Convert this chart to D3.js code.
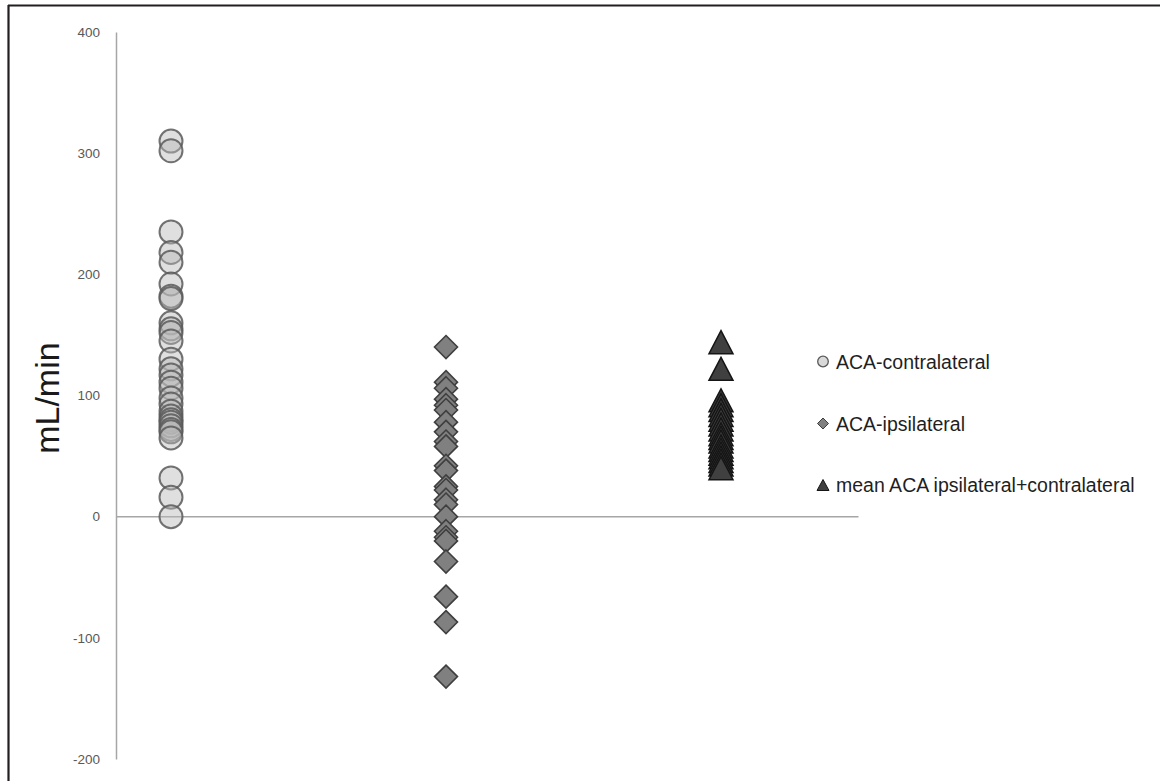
<!DOCTYPE html>
<html>
<head>
<meta charset="utf-8">
<script src="https://cdn.jsdelivr.net/npm/d3@7"></script>
<style>
  html, body { margin: 0; padding: 0; background: #fff; }
  svg { display: block; }
</style>
</head>
<body>
<svg id="chart" width="1160" height="781"></svg>
<script>
// ---- data ----
const seriesNames = ["ACA-contralateral", "ACA-ipsilateral", "mean ACA ipsilateral+contralateral"];
const seriesX = [1, 2, 3];
const contralateral = [310, 302, 235, 218, 210, 192, 182, 180, 160, 155, 152, 145, 130, 122, 117, 111, 106, 98, 93, 87, 83, 80, 78, 75, 72, 70, 65, 32, 16, 0];
const ipsilateral = [140, 111, 106, 97, 92, 88, 78, 70, 62, 58, 42, 38, 25, 22, 14, 10, 0, -12, -17, -20, -37, -66, -87, -132];
const meanValues = [144, 122, 96, 92, 88, 84, 80, 76, 72, 68, 65, 62, 58, 55, 52, 49, 46, 43, 40];
const yTicks = [-200, -100, 0, 100, 200, 300, 400];
const yLabel = "mL/min";

// ---- layout ----
const svg = d3.select("#chart");
const x = d3.scaleLinear().domain([0.8, 3.5]).range([116, 858.5]);
const y = d3.scaleLinear().domain([-200, 400]).range([759, 32]);

// frame (top and left edges)
svg.append("line").attr("x1", 8).attr("x2", 1160).attr("y1", 5.5).attr("y2", 5.5)
  .attr("stroke", "#231f20").attr("stroke-width", 2.2);
svg.append("line").attr("x1", 8.5).attr("x2", 8.5).attr("y1", 5).attr("y2", 781)
  .attr("stroke", "#231f20").attr("stroke-width", 2.2);

// y axis
const yAxis = d3.axisLeft(y).tickValues(yTicks).tickSize(0).tickPadding(16).tickFormat(d => String(d));
const gy = svg.append("g").attr("transform", `translate(${x(0.8)},0)`).call(yAxis);
gy.select(".domain").attr("stroke", "#a6a6a6").attr("stroke-width", 1.5);
gy.selectAll("text").attr("font-family", "Liberation Sans, Arial, sans-serif")
  .attr("font-size", 13.5).attr("fill", "#595959");

// zero line
svg.append("line").attr("x1", x(0.8)).attr("x2", x(3.5)).attr("y1", y(0)).attr("y2", y(0))
  .attr("stroke", "#a6a6a6").attr("stroke-width", 1.5);

// y label
svg.append("text")
  .attr("transform", `translate(59,${(y(100) + y(0)) / 2 - 58}) rotate(-90)`)
  .attr("text-anchor", "middle")
  .attr("font-family", "Liberation Sans, Arial, sans-serif")
  .attr("font-size", 34)
  .attr("fill", "#1a1a1a")
  .text(yLabel);

// marker paths
function diamondPath(h) { return `M0,${-h}L${h},0L0,${h}L${-h},0Z`; }
function trianglePath(w, h) { return `M0,${-h / 2}L${w / 2},${h / 2}L${-w / 2},${h / 2}Z`; }

// contralateral circles
svg.append("g").selectAll("circle").data(contralateral).join("circle")
  .attr("cx", x(seriesX[0])).attr("cy", d => y(d)).attr("r", 11.5)
  .attr("fill", "#b8b8b8").attr("fill-opacity", 0.45)
  .attr("stroke", "#5a5a5a").attr("stroke-opacity", 0.85).attr("stroke-width", 2);

// ipsilateral diamonds
svg.append("g").selectAll("path").data(ipsilateral).join("path")
  .attr("transform", d => `translate(${x(seriesX[1])},${y(d)})`)
  .attr("d", diamondPath(11.5))
  .attr("fill", "#808080").attr("stroke", "#3f3f3f").attr("stroke-width", 1.6);

// mean triangles
svg.append("g").selectAll("path").data(meanValues).join("path")
  .attr("transform", d => `translate(${x(seriesX[2])},${y(d)})`)
  .attr("d", trianglePath(24, 23))
  .attr("fill", "#404040").attr("stroke", "#151515").attr("stroke-width", 1.5);

// legend
const legendY = [361.5, 423.5, 485];
const lg = svg.append("g");
lg.append("circle").attr("cx", 823).attr("cy", legendY[0]).attr("r", 5.3)
  .attr("fill", "#d9d9d9").attr("stroke", "#595959").attr("stroke-width", 1.3);
lg.append("path").attr("transform", `translate(823,${legendY[1]})`).attr("d", diamondPath(5.5))
  .attr("fill", "#808080").attr("stroke", "#3f3f3f").attr("stroke-width", 1);
lg.append("path").attr("transform", `translate(823,${legendY[2]})`).attr("d", trianglePath(12, 11))
  .attr("fill", "#404040").attr("stroke", "#151515").attr("stroke-width", 1);
lg.selectAll("text").data(seriesNames).join("text")
  .attr("x", 836).attr("y", (d, i) => legendY[i] + 7)
  .attr("font-family", "Liberation Sans, Arial, sans-serif")
  .attr("font-size", 19.5).attr("fill", "#1f1f1f")
  .text(d => d);
</script>
</body>
</html>
